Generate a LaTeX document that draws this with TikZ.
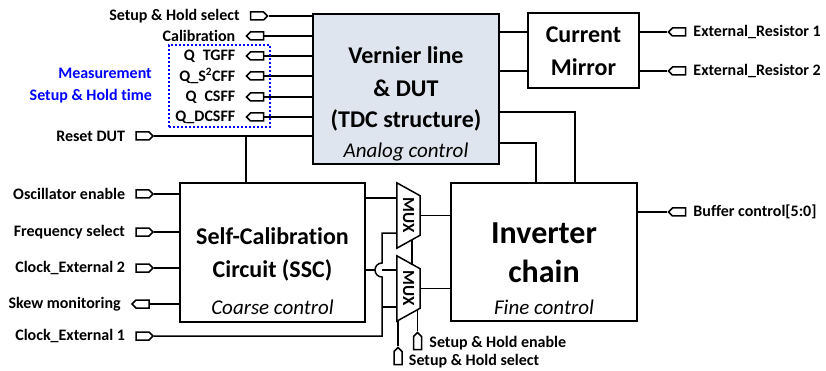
\documentclass[tikz,border=0pt]{standalone}
\usepackage{fontspec}
\setmainfont{Carlito}[Ligatures=NoCommon]
\usepackage{xcolor}
\usetikzlibrary{positioning,calc,shapes.symbols}
\definecolor{dutfill}{RGB}{222,229,238}
\definecolor{measblue}{RGB}{0,0,255}

\begin{document}
\begin{tikzpicture}[x=1pt,y=-1pt,
    wire/.style={line width=1.5pt},
    block/.style={rectangle,draw,line width=2pt,inner sep=0pt},
    pinin/.style={signal,signal to=east,draw,fill=white,line width=1.5pt,minimum width=17pt,minimum height=8pt,inner sep=0pt},
    pinout/.style={pinin,signal to=west},
    pinup/.style={signal,signal to=north,draw,fill=white,line width=1.5pt,minimum width=8pt,minimum height=13pt,inner sep=0pt},
    lbl/.style={font=\fontsize{16}{18}\selectfont\bfseries,inner sep=0pt},
    title/.style={font=\fontsize{24}{26}\selectfont\bfseries,inner sep=0pt,anchor=base},
    bigtitle/.style={title,font=\fontsize{32}{34}\selectfont\bfseries},
    ctrl/.style={font=\fontsize{21}{23}\selectfont\itshape,inner sep=0pt,anchor=base},
    mux/.style={rectangle,minimum width=23pt,minimum height=65pt,inner sep=0pt,font=\fontsize{17}{19}\selectfont\bfseries}]
  \useasboundingbox (0,0) rectangle (826,371);

  % main blocks
  \node[block,fill=dutfill,minimum width=186pt,minimum height=150pt] (dut) at (406,89) {};
  \node[block,minimum width=111pt,minimum height=75pt] (cm) at (583.5,50.5) {};
  \node[block,minimum width=185pt,minimum height=139pt] (ssc) at (272.5,252.5) {};
  \node[block,minimum width=186pt,minimum height=138pt] (inv) at (544,252) {};

  \node[title] (dut_t1) at (406,64) {Vernier line};
  \node[title] (dut_t2) at (406,97) {\& DUT};
  \node[title] (dut_t3) at (406,128) {(TDC structure)};
  \node[ctrl] (dut_c) at (406,158) {Analog control};
  \node[title] (cm_t1) at (583.5,43) {Current};
  \node[title] (cm_t2) at (583.5,76) {Mirror};
  \node[title] (ssc_t1) at (272.5,244) {Self-Calibration};
  \node[title] (ssc_t2) at (272.5,277) {Circuit (SSC)};
  \node[ctrl] (ssc_c) at (272.5,314) {Coarse control};
  \node[bigtitle] (inv_t1) at (544,243) {Inverter};
  \node[bigtitle] (inv_t2) at (544,282) {chain};
  \node[ctrl] (inv_c) at (544,314) {Fine control};

  % multiplexers
  \node[mux] (mux1) at (408.5,215.5) {\rotatebox{-90}{MUX}};
  \node[mux] (mux2) at (408.5,288.5) {\rotatebox{-90}{MUX}};
  \foreach \m in {mux1,mux2}
    \draw[wire] (\m.north west) -- ($(\m.north east)+(0,13)$) -- ($(\m.south east)+(0,-13)$) -- (\m.south west) -- cycle;

  % DUT inputs and outputs on the left
  \node[pinin] (p_shs) at (257,16) {};
  \node[lbl,left=10pt of p_shs] (t_shs) {Setup \& Hold select};
  \node[pinout] (p_cal) at (257,36) {};
  \node[lbl,left=10pt of p_cal] (t_cal) {Calibration};
  \node[pinout] (p_qtg) at (257,56) {};
  \node[lbl,left=10pt of p_qtg] (t_qtg) {Q\enspace TGFF};
  \node[pinout] (p_qs2) at (257,76) {};
  \node[lbl,left=10pt of p_qs2] (t_qs2) {Q\_S\textsuperscript{2}CFF};
  \node[pinout] (p_qcs) at (257,97) {};
  \node[lbl,left=10pt of p_qcs] (t_qcs) {Q\enspace CSFF};
  \node[pinout] (p_qdc) at (257,117) {};
  \node[lbl,left=10pt of p_qdc] (t_qdc) {Q\_DCSFF};
  \node[pinin] (p_rst) at (142.5,136) {};
  \node[lbl,left=10pt of p_rst] (t_rst) {Reset DUT};
  \node[lbl,text=measblue,anchor=east,align=right] (meas_txt) at (152,86) {Measurement\\[4pt]Setup \& Hold time};

  \draw[wire] (p_shs.east) -- (p_shs -| dut.west);
  \draw[wire] (p_cal.east) -- (p_cal -| dut.west);
  \draw[wire] (p_qtg.east) -- (p_qtg -| dut.west);
  \draw[wire] (p_qs2.east) -- (p_qs2 -| dut.west);
  \draw[wire] (p_qcs.east) -- (p_qcs -| dut.west);
  \draw[wire] (p_qdc.east) -- (p_qdc -| dut.west);
  \draw[wire] (p_rst.east) -- (p_rst -| dut.west);
  \coordinate (rst_tap) at (246,136);
  \draw[wire] (rst_tap) -- (rst_tap |- ssc.north);

  % DUT to current mirror and inverter chain
  \draw[wire] (dut.east |- 0,32) -- (cm.west |- 0,32);
  \draw[wire] (dut.east |- 0,71) -- (cm.west |- 0,71);
  \draw[wire] (dut.east |- 0,112) -| (inv.north -| 575,0);
  \draw[wire] (dut.east |- 0,143) -| (inv.north -| 536,0);

  % right side pins
  \node[pinout] (p_er1) at (679,32) {};
  \node[lbl,right=7pt of p_er1] (t_er1) {External\_Resistor 1};
  \node[pinout] (p_er2) at (679,71) {};
  \node[lbl,right=7pt of p_er2] (t_er2) {External\_Resistor 2};
  \node[pinout] (p_buf) at (679,212) {};
  \node[lbl,right=7pt of p_buf] (t_buf) {Buffer control[5:0]};
  \draw[wire] (cm.east |- p_er1) -- (p_er1.west);
  \draw[wire] (cm.east |- p_er2) -- (p_er2.west);
  \draw[wire] (inv.east |- p_buf) -- (p_buf.west);

  % SSC inputs
  \node[pinin] (p_osc) at (142.5,194) {};
  \node[lbl,left=10pt of p_osc] (t_osc) {Oscillator enable};
  \node[pinin] (p_frq) at (142.5,232) {};
  \node[lbl,left=10pt of p_frq] (t_frq) {Frequency select};
  \node[pinin] (p_clk2) at (142.5,268) {};
  \node[lbl,left=10pt of p_clk2] (t_clk2) {Clock\_External 2};
  \node[pinout] (p_skw) at (142.5,304) {};
  \node[lbl,left=10pt of p_skw] (t_skw) {Skew monitoring};
  \node[pinin] (p_clk1) at (142.5,336) {};
  \node[lbl,left=10pt of p_clk1] (t_clk1) {Clock\_External 1};
  \draw[wire] (p_osc.east) -- (p_osc -| ssc.west);
  \draw[wire] (p_frq.east) -- (p_frq -| ssc.west);
  \draw[wire] (p_clk2.east) -- (p_clk2 -| ssc.west);
  \draw[wire] (p_skw.east) -- (p_skw -| ssc.west);

  % clock 1 to both muxes, with a hop over the SSC output
  \draw[wire] (p_clk1.east) -- (382,336) -- (382,277) arc[start angle=90,end angle=270,radius=7]
    -- (382,233) -- (mux1.west |- 0,233);
  \draw[wire] (382,307) -- (mux2.west |- 0,307);
  \draw[wire] (ssc.east |- 0,198) -- (mux1.west |- 0,198);
  \draw[wire] (ssc.east |- 0,270) -- (375,270);
  \draw[wire] (382,270) -- (mux2.west |- 0,270);
  \draw[wire] (mux1.east) -- (mux1.east -| inv.west);
  \draw[wire] (mux2.east) -- (mux2.east -| inv.west);
  \draw[wire] (412,239.5) -- (412,264.5);

  % mux select pins
  \node[pinup] (p_she) at (417.5,343) {};
  \node[lbl,right=7pt of p_she] (t_she) {Setup \& Hold enable};
  \node[pinup] (p_shb) at (398,358) {};
  \node[lbl,anchor=west] (t_shb) at ($(p_shb.east)+(6,3)$) {Setup \& Hold select};
  \draw[wire] (p_she.north) -- (p_she.north |- 0,309.4);
  \draw[wire] (p_shb.north) -- (p_shb.north |- 0,320.5);

  % measurement group
  \node[draw=measblue,line width=1.6pt,dash pattern=on 2pt off 2pt,minimum width=101pt,minimum height=82pt,inner sep=0pt] (meas_box) at (219.5,86) {};
\end{tikzpicture}
\end{document}
